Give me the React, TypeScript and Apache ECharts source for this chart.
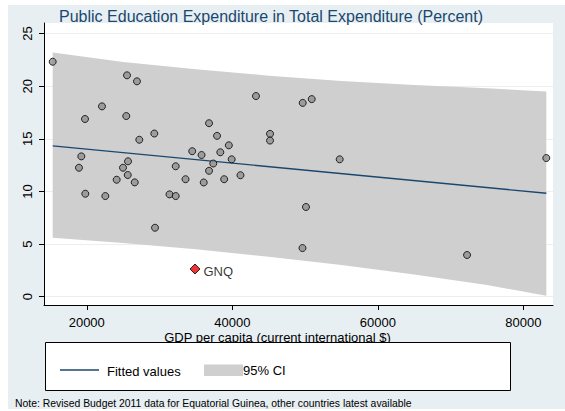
import React, { useEffect, useRef } from "react";
import * as echarts from "echarts";

// Countries: GDP per capita (current international $) and education share (%)
const countryGdp = [
  15320, 25530, 26900, 22090, 19760, 25430, 29280, 27220, 34490, 19250,
  18930, 25670, 24980, 25630, 24110, 26590, 32220, 33570, 43250, 49670,
  50910, 36800, 37900, 45180, 45180, 39520, 35770, 38350, 37380, 39910,
  36800, 41120, 36070, 38880, 54750, 50120, 49640, 72250, 83140, 19800,
  22550, 31370, 32220, 29380,
];
const countryEdu = [
  22.32, 21.03, 20.46, 18.08, 16.88, 17.16, 15.5, 14.91, 13.82, 13.33,
  12.25, 12.86, 12.25, 11.56, 11.11, 10.86, 12.39, 11.16, 19.06, 18.41,
  18.77, 16.48, 15.28, 15.47, 14.83, 14.38, 13.46, 13.72, 12.65, 13.05,
  11.96, 11.54, 10.85, 11.16, 13.05, 8.52, 4.62, 3.96, 13.17, 9.78,
  9.56, 9.72, 9.56, 6.55,
];

// Equatorial Guinea
const gnqGdp = [34870];
const gnqEdu = [2.63];
const gnqLabel = "GNQ";

// Fitted line
const fitGdp = [15320, 83140];
const fitValues = [14.33, 9.82];

// 95% CI band
const ciGdp = [15320, 25000, 35000, 45000, 55000, 65000, 75000, 83140];
const ciUpper = [23.2, 22.3, 21.6, 21.0, 20.5, 20.1, 19.8, 19.5];
const ciLower = [5.6, 5.1, 4.5, 3.8, 3.0, 2.1, 1.1, 0.1];

const xTicks = [20000, 40000, 60000, 80000];
const yTicks = [0, 5, 10, 15, 20, 25];

const titleText = "Public Education Expenditure in Total Expenditure (Percent)";
const xTitle = "GDP per capita (current international $)";
const legendFit = "Fitted values";
const legendCI = "95% CI";
const noteText =
  "Note: Revised Budget 2011 data for Equatorial Guinea, other countries latest available";

const FONT = "'Liberation Sans', Arial, sans-serif";
const BG = "#e7eff2";
const NAVY = "#1a476f";
const BAND = "#cfcfcf";

export default function App() {
  const ref = useRef<HTMLDivElement>(null);

  useEffect(() => {
    if (!ref.current) return;
    const chart = echarts.init(ref.current, null, { renderer: "svg" });

    const option: any = {
      animation: false,
      backgroundColor: BG,
      textStyle: { fontFamily: FONT },
      grid: {
        left: 36,
        top: 18,
        width: 509,
        height: 282,
        show: true,
        backgroundColor: "#ffffff",
        borderWidth: 0,
        containLabel: false,
      },
      xAxis: {
        type: "value",
        min: 14125,
        max: 84060,
        axisLine: { show: true, onZero: false, lineStyle: { color: "#000", width: 1 } },
        axisTick: { show: true, length: 5, customValues: xTicks, lineStyle: { color: "#000" } },
        axisLabel: {
          customValues: xTicks,
          formatter: (v: number) => String(v),
          fontSize: 13,
          color: "#000",
          margin: 11,
          fontFamily: FONT,
        },
        splitLine: { show: false },
      },
      yAxis: {
        type: "value",
        min: -0.79,
        max: 26,
        axisLine: { show: true, onZero: false, lineStyle: { color: "#000", width: 1 } },
        axisTick: { show: true, length: 5, customValues: yTicks, lineStyle: { color: "#000" } },
        axisLabel: {
          customValues: yTicks,
          formatter: (v: number) => String(v),
          rotate: 90,
          fontSize: 13,
          color: "#000",
          margin: 10,
          fontFamily: FONT,
        },
        splitLine: { show: true, lineStyle: { color: BG, width: 1 } },
      },
      series: [
        {
          type: "custom",
          name: legendCI,
          z: 2,
          silent: true,
          data: ciGdp.map((x, i) => [x, ciUpper[i]]),
          renderItem: (params: any, api: any) => {
            if (params.dataIndex !== 0) return null;
            const pts: number[][] = [];
            for (let i = 0; i < ciGdp.length; i++) pts.push(api.coord([ciGdp[i], ciUpper[i]]));
            for (let i = ciGdp.length - 1; i >= 0; i--) pts.push(api.coord([ciGdp[i], ciLower[i]]));
            return {
              type: "polygon",
              shape: { points: pts },
              style: { fill: BAND, stroke: null },
            };
          },
        },
        {
          type: "line",
          name: legendFit,
          z: 3,
          silent: true,
          showSymbol: false,
          data: fitGdp.map((x, i) => [x, fitValues[i]]),
          lineStyle: { color: NAVY, width: 1.4 },
        },
        {
          type: "scatter",
          z: 4,
          silent: true,
          symbol: "circle",
          symbolSize: 7,
          data: countryGdp.map((x, i) => [x, countryEdu[i]]),
          itemStyle: { color: "#8e8e8e", borderColor: "#000", borderWidth: 1 },
        },
        {
          type: "scatter",
          z: 5,
          silent: true,
          symbol: "diamond",
          symbolSize: 10,
          data: gnqGdp.map((x, i) => [x, gnqEdu[i]]),
          itemStyle: { color: "#ee0000", borderColor: "#000", borderWidth: 1 },
          label: {
            show: true,
            position: "right",
            distance: 3,
            formatter: gnqLabel,
            fontSize: 13,
            color: "#000",
            fontFamily: FONT,
            offset: [0, 2],
          },
        },
      ],
      graphic: [
        {
          type: "text",
          x: 263,
          y: 11.5,
          style: {
            text: titleText,
            fontSize: 16,
            fill: NAVY,
            fontFamily: FONT,
            textAlign: "center",
            textVerticalAlign: "middle",
          },
        },
        {
          type: "text",
          x: 269.5,
          y: 332.5,
          style: {
            text: xTitle,
            fontSize: 13,
            fill: "#000",
            fontFamily: FONT,
            textAlign: "center",
            textVerticalAlign: "middle",
          },
        },
        {
          type: "rect",
          shape: { x: 37.5, y: 337.5, width: 465, height: 48 },
          style: { fill: "#fff", stroke: "#000", lineWidth: 1 },
        },
        {
          type: "line",
          shape: { x1: 52, y1: 365, x2: 91, y2: 365 },
          style: { stroke: NAVY, lineWidth: 1.4 },
        },
        {
          type: "text",
          x: 99,
          y: 366,
          style: {
            text: legendFit,
            fontSize: 13,
            fill: "#000",
            fontFamily: FONT,
            textAlign: "left",
            textVerticalAlign: "middle",
          },
        },
        {
          type: "rect",
          shape: { x: 196, y: 359.5, width: 39, height: 11.5 },
          style: { fill: BAND },
        },
        {
          type: "text",
          x: 235,
          y: 365.5,
          style: {
            text: legendCI,
            fontSize: 13,
            fill: "#000",
            fontFamily: FONT,
            textAlign: "left",
            textVerticalAlign: "middle",
          },
        },
        {
          type: "text",
          x: 7,
          y: 398,
          style: {
            text: noteText,
            fontSize: 10.4,
            fill: "#000",
            fontFamily: FONT,
            textAlign: "left",
            textVerticalAlign: "middle",
          },
        },
      ],
    };

    chart.setOption(option);
    return () => chart.dispose();
  }, []);

  return (
    <div
      ref={ref}
      style={{ position: "absolute", left: 8, top: 5, width: 557, height: 404 }}
    />
  );
}
